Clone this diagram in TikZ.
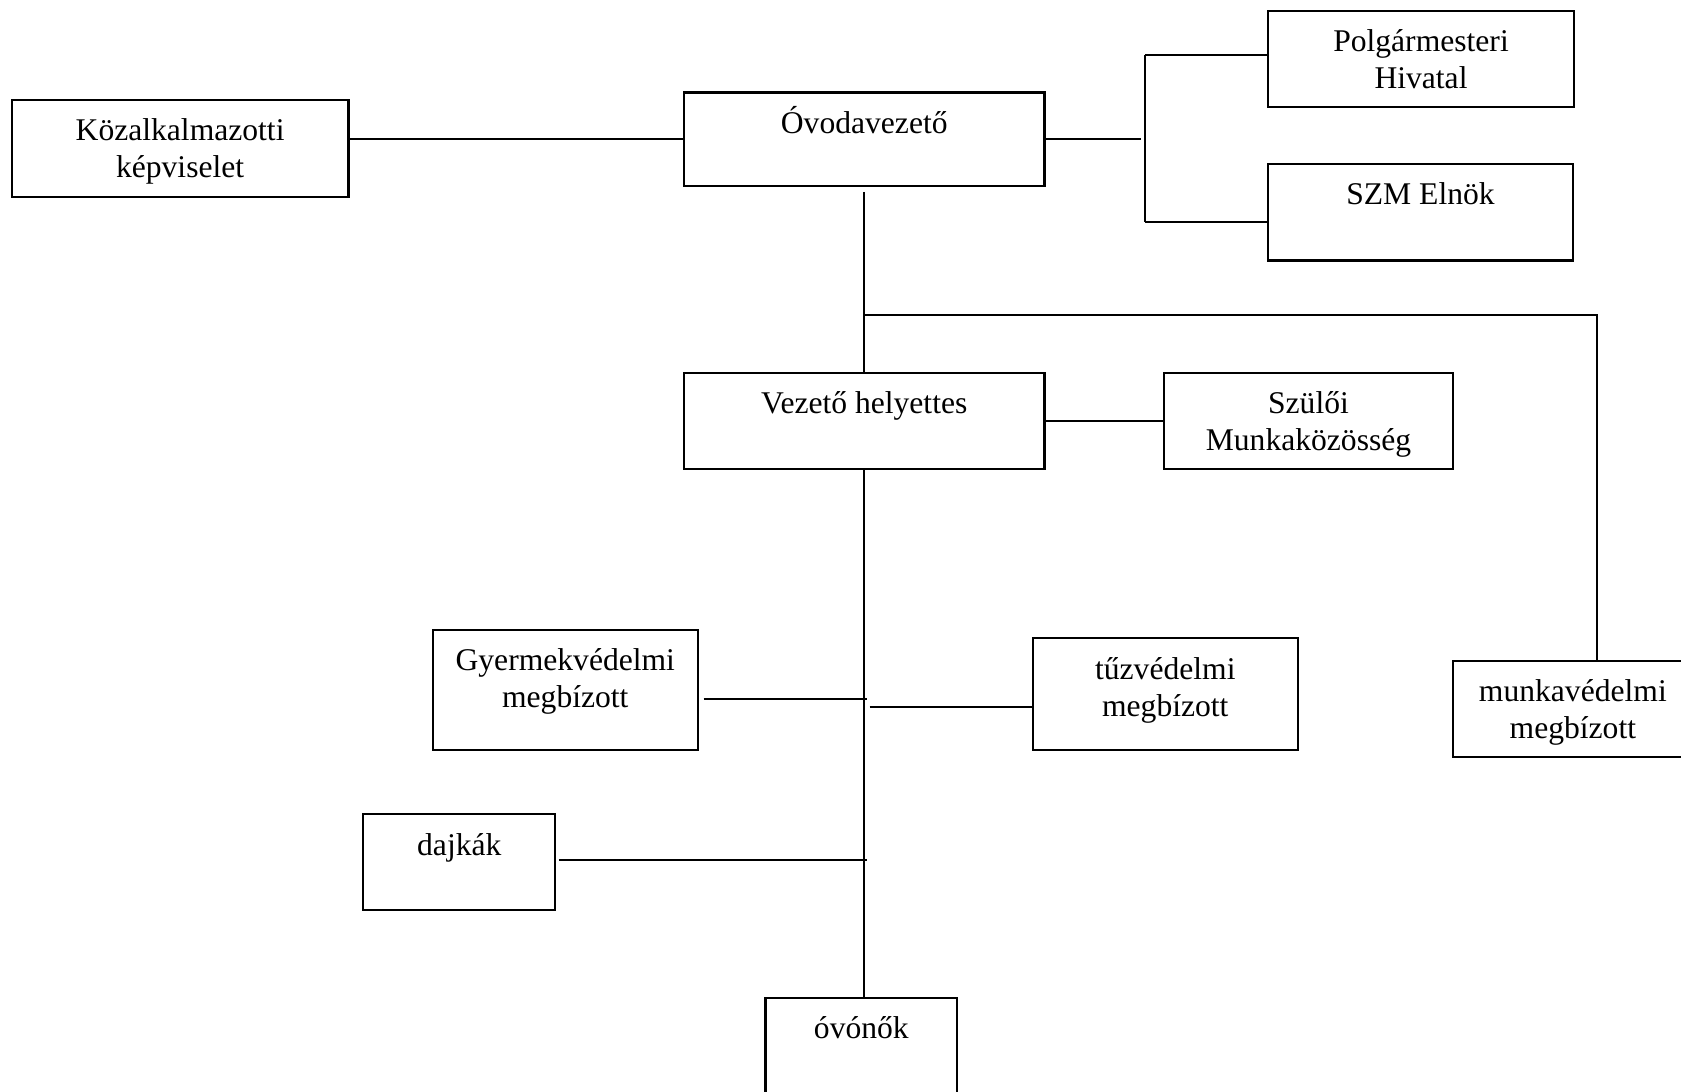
\documentclass[tikz,border=0pt]{standalone}
\usepackage{fontspec}
\setmainfont{Liberation Serif}
\usetikzlibrary{calc}
\tikzset{
  box/.style={draw=black, line width=1.05pt, inner sep=0pt, rectangle},
  lbl/.style={anchor=north, inner sep=0pt, align=center,
    font=\fontsize{15.8pt}{18.5pt}\selectfont},
  conn/.style={line width=1.05pt, draw=black}
}
\newcommand{\tstrut}{\rule{0pt}{20.8pt}}
\begin{document}
\begin{tikzpicture}[x=0.5pt,y=-0.5pt]
\useasboundingbox (0,0) rectangle (1681,1092);
\fill[white] (0,0) rectangle (1681,1092);
\clip (0,0) rectangle (1681,1092);

% boxes
\node[box, minimum width=168.4pt, minimum height=48.5pt] (kozal) at (180.1,148.5) {};
\node[box, minimum width=180.25pt, minimum height=46.6pt] (ovoda) at (864.25,139.1) {};
\node[box, minimum width=153pt, minimum height=48pt] (polg) at (1421,58.7) {};
\node[box, minimum width=152.25pt, minimum height=48.25pt] (szm) at (1420.5,212.2) {};
\node[box, minimum width=180.25pt, minimum height=48.3pt] (vez) at (864.25,421) {};
\node[box, minimum width=144.5pt, minimum height=48.3pt] (szul) at (1308.5,421) {};
\node[box, minimum width=132.65pt, minimum height=60pt] (gyer) at (565.3,690) {};
\node[box, minimum width=132.25pt, minimum height=55.85pt] (tuz) at (1165.3,694.2) {};
\node[box, minimum width=120.15pt, minimum height=48pt] (munka) at (1572.85,709) {};
\node[box, minimum width=96.1pt, minimum height=48pt] (dajka) at (459.3,862.2) {};
\node[box, minimum width=95.85pt, minimum height=48pt] (ovonok) at (861.35,1046) {};

% texts
\node[lbl] (tkozal) at (kozal.north) {\tstrut Közalkalmazotti\\képviselet};
\node[lbl] (tovoda) at (ovoda.north) {\tstrut Óvodavezető};
\node[lbl] (tpolg) at (polg.north) {\tstrut Polgármesteri\\Hivatal};
\node[lbl] (tszm) at (szm.north) {\tstrut SZM Elnök};
\node[lbl] (tvez) at (vez.north) {\tstrut Vezető helyettes};
\node[lbl] (tszul) at (szul.north) {\tstrut Szülői\\Munkaközösség};
\node[lbl] (tgyer) at (gyer.north) {\tstrut Gyermekvédelmi\\megbízott};
\node[lbl] (ttuz) at (tuz.north) {\tstrut tűzvédelmi\\megbízott};
\node[lbl] (tmunka) at (munka.north) {\tstrut munkavédelmi\\megbízott};
\node[lbl] (tdajka) at (dajka.north) {\tstrut dajkák};
\node[lbl] (tovonok) at (ovonok.north) {\tstrut óvónők};

% helper coordinates
\coordinate (bt) at (1145,55);
\coordinate (bb) at (1145,222);
\coordinate (mt) at (1597,315);
\coordinate (gy) at (867,699);
\coordinate (tz) at (869.5,707.3);
\coordinate (dj) at (867,860);

% connectors
\draw[conn] (kozal.east |- ovoda.west) -- (ovoda.west);
\draw[conn] (ovoda.east) -- ++(95.5,0);
\draw[conn] (bt) -- (bb);
\draw[conn] (bt) -- (bt -| polg.west);
\draw[conn] (bb) -- (bb -| szm.west);
\draw[conn] ($(ovoda.south)+(0,5)$) -- (vez.north);
\draw[conn] (ovoda.south |- mt) -- (mt) -- (mt |- munka.north);
\draw[conn] (vez.east) -- (szul.west);
\draw[conn] (vez.south) -- (vez.south |- ovonok.north);
\draw[conn] ($(gyer.east |- gy)+(4.5,0)$) -- (gy);
\draw[conn] (tz) -- (tz -| tuz.west);
\draw[conn] ($(dajka.east |- dj)+(2.3,0)$) -- (dj);
\end{tikzpicture}
\end{document}
